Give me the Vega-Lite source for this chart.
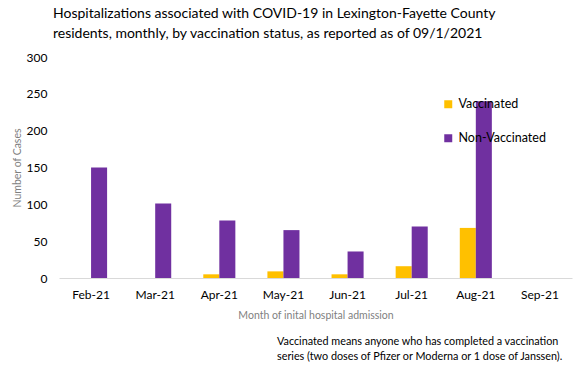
{
  "$schema": "https://vega.github.io/schema/vega-lite/v6.json",
  "background": "white",
  "padding": {"left": 12, "right": 2, "top": 7, "bottom": 2},
  "config": {"view": {"stroke": null}, "font": "Lato"},
  "title": {
    "text": ["Hospitalizations associated with COVID-19 in Lexington-Fayette County", "residents, monthly, by vaccination status, as reported as of  09/1/2021"],
    "anchor": "start",
    "frame": "group",
    "dx": -6,
    "fontSize": 14,
    "font": "Lato",
    "fontWeight": "normal",
    "color": "#000000",
    "lineHeight": 20,
    "offset": 10
  },
  "vconcat": [
    {
      "width": 513,
      "height": 221,
      "title": {
        "text": ["Vaccinated means anyone who has completed a vaccination", "series (two doses of Pfizer or Moderna or 1 dose of Janssen)."],
        "orient": "bottom",
        "anchor": "start",
        "frame": "group",
        "dx": 218,
        "fontSize": 10.8,
        "font": "Lato",
        "fontWeight": "normal",
        "color": "#000000",
        "lineHeight": 15,
        "offset": 15
      },
      "data": {
        "values": [
          {"month": "Feb-21", "status": "Vaccinated", "cases": 0},
          {"month": "Feb-21", "status": "Non-Vaccinated", "cases": 150},
          {"month": "Mar-21", "status": "Vaccinated", "cases": 0},
          {"month": "Mar-21", "status": "Non-Vaccinated", "cases": 101},
          {"month": "Apr-21", "status": "Vaccinated", "cases": 5},
          {"month": "Apr-21", "status": "Non-Vaccinated", "cases": 78},
          {"month": "May-21", "status": "Vaccinated", "cases": 9},
          {"month": "May-21", "status": "Non-Vaccinated", "cases": 65},
          {"month": "Jun-21", "status": "Vaccinated", "cases": 5},
          {"month": "Jun-21", "status": "Non-Vaccinated", "cases": 36},
          {"month": "Jul-21", "status": "Vaccinated", "cases": 16},
          {"month": "Jul-21", "status": "Non-Vaccinated", "cases": 70},
          {"month": "Aug-21", "status": "Vaccinated", "cases": 68},
          {"month": "Aug-21", "status": "Non-Vaccinated", "cases": 240},
          {"month": "Sep-21", "status": "Vaccinated", "cases": 0},
          {"month": "Sep-21", "status": "Non-Vaccinated", "cases": 0}
        ]
      },
      "mark": {"type": "bar"},
      "encoding": {
        "x": {
          "field": "month",
          "type": "nominal",
          "sort": null,
          "scale": {"paddingInner": 0.5, "paddingOuter": 0.25},
          "axis": {
            "title": "Month of inital hospital admission",
            "titleFontSize": 10.5,
            "titleFontWeight": "normal",
            "titleColor": "#7f7f7f",
            "titlePadding": 10,
            "labelAngle": 0,
            "labelFontSize": 12,
            "labelColor": "#000000",
            "labelPadding": 11,
            "ticks": false,
            "domainColor": "#d9d9d9",
            "domainWidth": 1
          }
        },
        "xOffset": {
          "field": "status",
          "type": "nominal",
          "sort": ["Vaccinated", "Non-Vaccinated"],
          "scale": {"paddingInner": 0, "paddingOuter": 0}
        },
        "y": {
          "field": "cases",
          "type": "quantitative",
          "scale": {"domain": [0, 300]},
          "axis": {
            "title": "Number of Cases",
            "titleFontSize": 10.5,
            "titleFontWeight": "normal",
            "titleColor": "#7f7f7f",
            "titlePadding": 4,
            "values": [0, 50, 100, 150, 200, 250, 300],
            "labelFontSize": 12,
            "labelColor": "#000000",
            "labelPadding": 12,
            "grid": false,
            "ticks": false,
            "domain": false
          }
        },
        "color": {
          "field": "status",
          "type": "nominal",
          "sort": ["Vaccinated", "Non-Vaccinated"],
          "scale": {"domain": ["Vaccinated", "Non-Vaccinated"], "range": ["#FFC000", "#7030A0"]},
          "legend": {
            "title": null,
            "orient": "none",
            "legendX": 383,
            "legendY": 41,
            "symbolType": "square",
            "symbolSize": 64,
            "symbolStrokeWidth": 0,
            "labelFontSize": 12.5,
            "labelColor": "#000000",
            "labelOffset": 4,
            "rowPadding": 21
          }
        }
      }
    }
  ]
}
